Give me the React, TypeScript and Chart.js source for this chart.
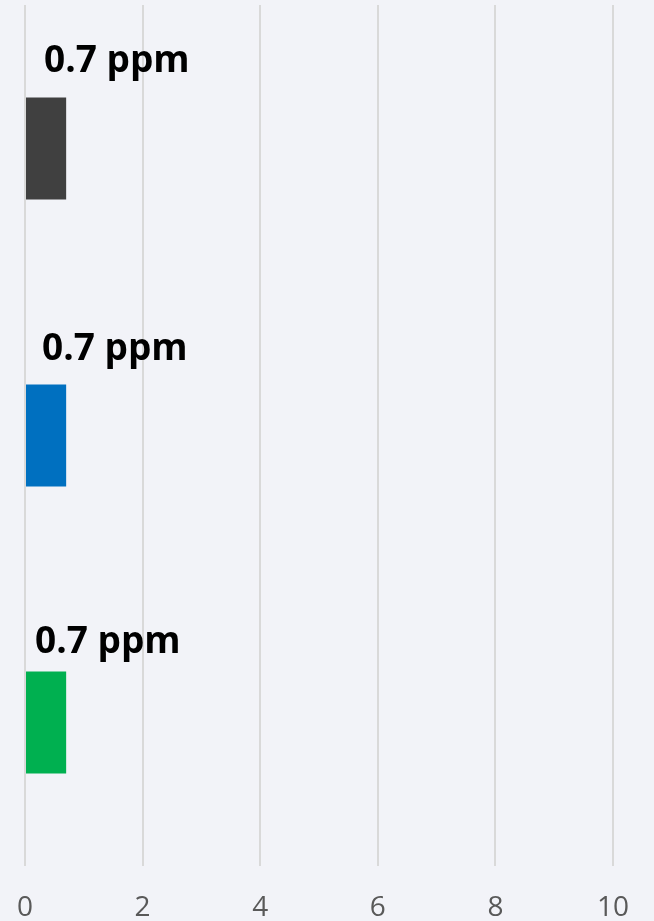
import React, { useEffect, useRef } from "react";
import { Chart, registerables } from "chart.js";

Chart.register(...registerables);

const categories = ["A", "B", "C"];
const values = [0.7, 0.7, 0.7];
const labels = ["0.7 ppm", "0.7 ppm", "0.7 ppm"];
const barColors = ["#404040", "#0070C0", "#00B050"];
const xTicks = [0, 2, 4, 6, 8, 10];

// manual label nudges (pixels) like the original's hand-placed data labels
const labelNudge = [
  { dx: 18, dy: -26 },
  { dx: 16, dy: -25 },
  { dx: 9, dy: -19 },
];

const labelPlugin = {
  id: "ppmLabels",
  afterDatasetsDraw(chart: any) {
    const ctx = chart.ctx;
    const meta = chart.getDatasetMeta(0);
    ctx.save();
    ctx.font = "bold 37px 'Open Sans'";
    ctx.fillStyle = "#000000";
    ctx.textAlign = "left";
    ctx.textBaseline = "alphabetic";
    meta.data.forEach((bar: any, i: number) => {
      const top = bar.y - bar.height / 2;
      const left = bar.base;
      const n = labelNudge[i] || { dx: 0, dy: -20 };
      ctx.fillText(labels[i], left + n.dx, top + n.dy);
    });
    ctx.restore();
  },
};

export default function App() {
  const ref = useRef<HTMLCanvasElement>(null);
  useEffect(() => {
    document.body.style.margin = "0";
    document.body.style.background = "#F2F3F8";
    const chart = new Chart(ref.current as HTMLCanvasElement, {
      type: "bar",
      data: {
        labels: categories,
        datasets: [
          {
            data: values,
            backgroundColor: barColors,
            borderWidth: 0,
            categoryPercentage: 1,
            barPercentage: 0.355,
          },
        ],
      },
      options: {
        indexAxis: "y",
        animation: false,
        responsive: false,
        maintainAspectRatio: false,
        layout: { padding: { left: 25, right: 41, top: 5, bottom: 0 } },
        plugins: {
          legend: { display: false },
          tooltip: { enabled: false },
        },
        scales: {
          y: { display: false },
          x: {
            min: 0,
            max: 10,
            afterBuildTicks: (axis: any) => {
              axis.ticks = xTicks.map((v) => ({ value: v }));
            },
            afterFit: (axis: any) => {
              axis.height = 55;
              axis.paddingLeft = 0;
              axis.paddingRight = 0;
            },
            border: { display: false },
            grid: { color: "#D9D9D9", lineWidth: 2, drawTicks: false },
            ticks: {
              padding: 25,
              color: "#595959",
              font: { family: "'Open Sans'", size: 28 },
              maxRotation: 0,
            },
          },
        },
      },
      plugins: [labelPlugin],
    });
    return () => chart.destroy();
  }, []);
  return (
    <div style={{ width: 654, height: 921, background: "#F2F3F8" }}>
      <canvas ref={ref} width={654} height={921} style={{ display: "block" }} />
    </div>
  );
}
